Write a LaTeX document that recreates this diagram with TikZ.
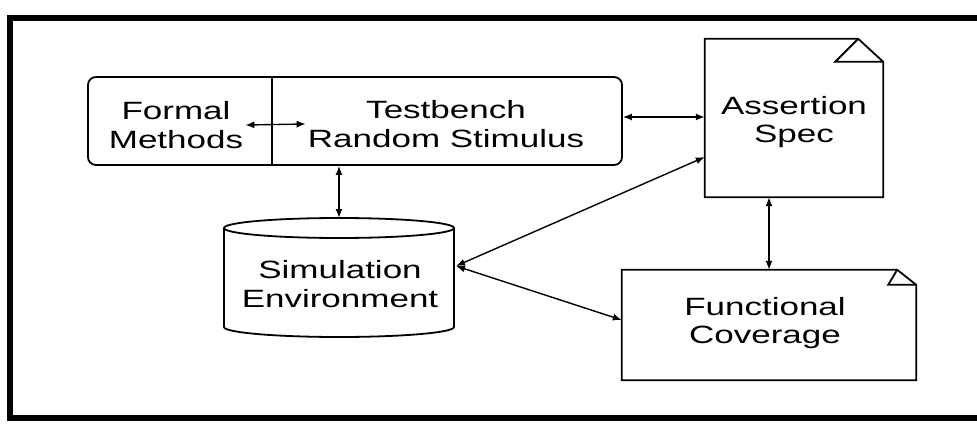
\documentclass[tikz,border=0pt]{standalone}
\usepackage{fontspec}
\newfontfamily\diagfont[FakeStretch=1.4]{Liberation Sans}
\usetikzlibrary{arrows.meta}
\begin{document}
\begin{tikzpicture}[x=1pt,y=-1pt,
  txt/.style={font=\diagfont\fontsize{25}{28.5}\selectfont, align=center, inner sep=2pt},
  boxline/.style={line width=1.8pt, line join=miter},
  arr/.style={line width=1.4pt, {Latex[length=9pt,width=7pt]}-{Latex[length=9pt,width=7pt]}},
  ghost/.style={rectangle, inner sep=0pt}]
\useasboundingbox (0,0) rectangle (977,423);
% frame
\draw[line width=6pt, line join=miter] (985,18) -- (10,18) -- (10,418) -- (985,418);

% testbench box
\node[ghost, draw, boxline, rounded corners=8pt, minimum width=534pt, minimum height=88pt] (bench) at (355,121) {};
\draw[boxline] (272,77) -- (272,165);
\node[txt] (fm) at (176,125) {Formal\\Methods};
\node[txt] (tb) at (446,124) {Testbench\\Random Stimulus};

% assertion spec
\node[ghost, minimum width=178pt, minimum height=158pt] (as) at (794,118) {};
\draw[boxline] (as.north west) -- ([xshift=-25pt]as.north east) -- ([yshift=-23pt]as.north east)
  -- (as.south east) -- (as.south west) -- cycle;
\draw[boxline] ([xshift=-25pt]as.north east) -- ([xshift=-48pt,yshift=-23pt]as.north east) -- ([yshift=-23pt]as.north east);
\node[txt] (ast) at (794,122) {Assertion\\Spec};

% functional coverage
\node[ghost, minimum width=294pt, minimum height=110pt] (fc) at (769,325) {};
\draw[boxline] (fc.north west) -- ([xshift=-19pt]fc.north east) -- ([yshift=-15pt]fc.north east)
  -- (fc.south east) -- (fc.south west) -- cycle;
\draw[boxline] ([xshift=-19pt]fc.north east) -- ([xshift=-28pt,yshift=-15pt]fc.north east) -- ([yshift=-15pt]fc.north east);
\node[txt] (fct) at (765,323) {Functional\\Coverage};

% simulation environment cylinder
\draw[boxline] (224,228) -- (224,327) arc[start angle=180, end angle=360, x radius=115pt, y radius=10pt] -- (454,228);
\draw[boxline] (339,228) ellipse [x radius=115pt, y radius=10pt];
\node[txt] (sim) at (340,284) {Simulation\\Environment};
\coordinate (simtop) at (339,218);
\coordinate (simr) at (456,266);

% connectors
\draw[arr] (fm.east) -- (tb.west);
\draw[arr] ([yshift=4pt]bench.east) -- ([yshift=4pt]bench.east -| as.west);
\draw[arr] (bench.south -| simtop) -- (simtop);
\draw[arr] ([yshift=-39pt]as.west) -- (simr);
\draw[arr] (simr) -- ([yshift=5pt]fc.west);
\draw[arr] (as.south -| 769,0) -- (fc.north -| 769,0);
\end{tikzpicture}
\end{document}
